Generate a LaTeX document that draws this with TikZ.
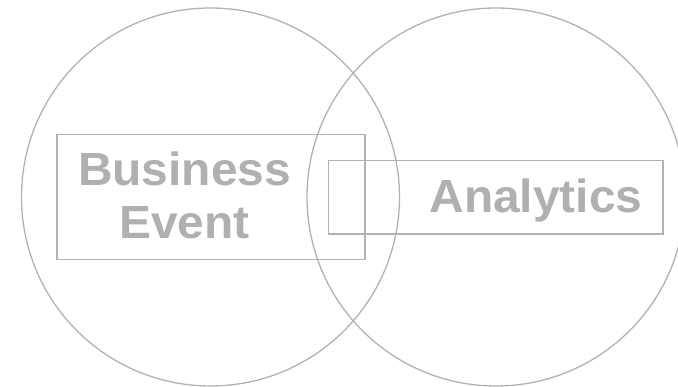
\documentclass[tikz,border=0pt]{standalone}
\usepackage{fontspec}
\setmainfont{Liberation Sans}
\newfontfamily\venntext[FakeStretch=1.03]{Liberation Sans}
\definecolor{venngray}{RGB}{178,178,178}
\definecolor{textgray}{RGB}{176,176,176}

\tikzset{%
        venn/.style={
                circle,
                draw=venngray,
                line width=1.3pt,
                minimum size=378pt
            },
        frame/.style={
                rectangle,
                draw=venngray,
                line width=1.5pt
            },
        label/.style={
                text=textgray,
                font=\venntext\fontsize{46.5}{53}\selectfont\bfseries,
                inner sep=0pt,
                align=center
            }
    }

\begin{document}
\begin{tikzpicture}[x=1pt,y=-1pt]
    \useasboundingbox (0,0) rectangle (678,387);

    % circles:
        \node [venn]  (lc) at (210.5,197) {};
        \node [venn]  (rc) at (496,197) {};

    % boxes:
        \node [frame, minimum width=308pt, minimum height=125pt]  (bebox) at (211,197) {};
        \node [frame, minimum width=334.5pt, minimum height=73.3pt]  (anbox) at (495.7,197.4) {};

    % texts:
        \node [label]  (be) at (184.5,195) {Business\\Event};
        \node [label, anchor=base]  (an) at (536,213) {Analytics};
\end{tikzpicture}
\end{document}
